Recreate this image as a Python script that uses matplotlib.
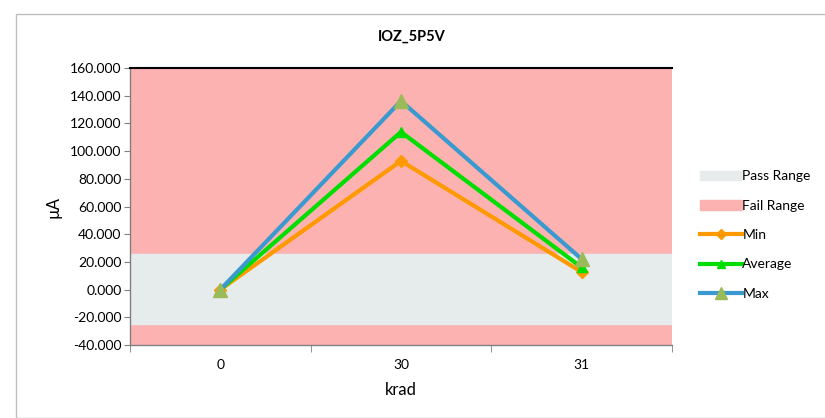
import matplotlib.pyplot as plt
from matplotlib.patches import Patch, Rectangle
from matplotlib.lines import Line2D
from matplotlib.ticker import FormatStrFormatter

plt.rcParams['font.family'] = ['Lato', 'DejaVu Sans']

categories = ['0', '30', '31']
min_vals = [0.0, 92.9, 12.7]
avg_vals = [0.0, 113.8, 16.0]
max_vals = [0.0, 136.2, 22.0]
pass_low, pass_high = -25.0, 26.0
y_lo, y_hi = -40, 160

fig = plt.figure(figsize=(8.25, 4.18), dpi=100)
fig.patches.append(Rectangle((16 / 825, 0), 1, 1 - 14 / 418, transform=fig.transFigure,
                             fill=False, edgecolor='#BFBFBF', linewidth=1))
ax = fig.add_axes([130 / 825, 73 / 418, 542 / 825, 277 / 418])

x = range(len(categories))
ax.axhspan(y_lo, y_hi, color='#FCB2B1', zorder=0)
ax.axhspan(pass_low, pass_high, color='#E6EBEB', zorder=1)

ax.plot(x, min_vals, color='#FF9900', lw=3, marker='D', ms=6, mfc='#FF9900', mec='#FF9900', zorder=3)
ax.plot(x, avg_vals, color='#00DD00', lw=3, marker='^', ms=7, mfc='#00DD00', mec='#00DD00', zorder=4)
ax.plot(x, max_vals, color='#3A9AD0', lw=3, marker='^', ms=10, mfc='#9BBB59', mec='#9BBB59', zorder=5)

ax.set_xlim(-0.5, 2.5)
ax.set_ylim(y_lo, y_hi)
ax.set_yticks(range(-40, 161, 20))
ax.yaxis.set_major_formatter(FormatStrFormatter('%.3f'))
ax.set_xticks(list(x))
ax.set_xticklabels(categories)
ax.set_xticks([-0.5, 0.5, 1.5, 2.5], minor=True)
ax.tick_params(axis='x', which='major', length=0, pad=10)
ax.tick_params(axis='x', which='minor', length=5, color='#808080')
ax.tick_params(axis='y', length=4, color='#808080', pad=2)
ax.tick_params(labelsize=10)

for s in ['left', 'bottom']:
    ax.spines[s].set_color('#808080')
    ax.spines[s].set_linewidth(1)
ax.spines['right'].set_visible(False)
ax.spines['top'].set_color('black')
ax.spines['top'].set_linewidth(1.5)

fig.text(412 / 825, 1 - 37 / 418, 'IOZ_5P5V', fontsize=10.5, fontweight='bold',
         ha='center', va='center')
ax.set_xlabel('krad', fontsize=12, labelpad=8)
ax.set_ylabel('µA', fontsize=12, labelpad=6)

handles = [
    Patch(color='#E6EBEB'),
    Patch(color='#FCB2B1'),
    Line2D([], [], color='#FF9900', lw=3, marker='D', ms=5),
    Line2D([], [], color='#00DD00', lw=3, marker='^', ms=6),
    Line2D([], [], color='#3A9AD0', lw=3, marker='^', ms=8, mfc='#9BBB59', mec='#9BBB59'),
]
labels = ['Pass Range', 'Fail Range', 'Min', 'Average', 'Max']
fig.legend(handles, labels, loc='center left', bbox_to_anchor=(700 / 825, 1 - 235 / 418),
           frameon=False, fontsize=10, handlelength=3.0, handletextpad=0.05,
           labelspacing=1.25, borderaxespad=0, borderpad=0)

fig.savefig('out.png', dpi=100)
